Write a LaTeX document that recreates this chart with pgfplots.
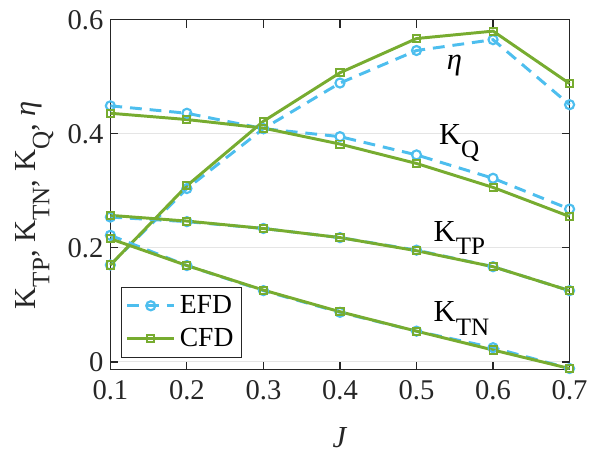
\documentclass[border=0pt]{standalone}
\usepackage{fontspec}
\setmainfont{Liberation Serif}
\usepackage{pgfplots}
\pgfplotsset{compat=1.18}
\definecolor{efd}{rgb}{0.3010,0.7450,0.9330}
\definecolor{cfd}{rgb}{0.4660,0.6740,0.1880}
\definecolor{axc}{rgb}{0.15,0.15,0.15}
\newcommand\sub[1]{\raisebox{-0.45em}{\scalebox{0.82}{#1}}}
\begin{document}
\begin{tikzpicture}
\begin{axis}[name=ax,
  scale only axis, width=233pt, height=177.5pt,
  xmin=0.1, xmax=0.7, ymin=-0.0133, ymax=0.6,
  xtick={0.1,0.2,0.3,0.4,0.5,0.6,0.7},
  ytick={0,0.2,0.4,0.6},
  yticklabels={\textrm{0},\textrm{0.2},\textrm{0.4},\textrm{0.6}},
  xticklabels={\textrm{0.1},\textrm{0.2},\textrm{0.3},\textrm{0.4},\textrm{0.5},\textrm{0.6},\textrm{0.7}},
  tick align=inside, tick pos=both,
  major tick length=4pt,
  axis line style={axc, line width=0.6pt},
  tick style={axc, line width=0.6pt},
  ymajorgrids, grid style={gray!20, line width=0.5pt},
  ticklabel style={font=\rmfamily\fontsize{14.5}{16}\selectfont, text=axc},
  xticklabel style={yshift=-2pt},
  xlabel={\textit{J}},
  xlabel style={font=\rmfamily\fontsize{15.5}{17}\selectfont, text=axc, yshift=-7pt},
  ylabel={K\sub{TP}, K\sub{TN}, K\sub{Q}, \textit{η}},
  ylabel style={font=\rmfamily\fontsize{15.5}{17}\selectfont, text=axc, at={(axis description cs:-0.165,0.47)}, anchor=center},
  legend style={at={(axis description cs:0.0236,0.0338)}, anchor=south west,
    draw=axc, line width=0.5pt, font=\rmfamily\fontsize{14}{16}\selectfont, inner sep=2pt,
    row sep=2pt, cells={anchor=west}},
  legend image code/.code={\draw[mark repeat=2,mark phase=2] plot coordinates {(0pt,0pt) (12pt,0pt) (24pt,0pt)};},
  clip=false,
]
% eta
\addplot[efd, dashed, dash pattern=on 6pt off 4pt, line width=1.5pt, mark=o, mark size=2.3pt, mark options={solid, line width=1.1pt}]
  coordinates {(0.1,0.170) (0.2,0.304) (0.3,0.409) (0.4,0.489) (0.5,0.546) (0.6,0.565) (0.7,0.451)};
\addlegendentry{EFD}
\addplot[cfd, line width=1.5pt, mark=square, mark size=1.8pt, mark options={solid, line width=1.0pt}]
  coordinates {(0.1,0.170) (0.2,0.309) (0.3,0.422) (0.4,0.507) (0.5,0.567) (0.6,0.580) (0.7,0.488)};
\addlegendentry{CFD}
% KQ
\addplot[efd, dashed, dash pattern=on 6pt off 4pt, line width=1.5pt, mark=o, mark size=2.3pt, mark options={solid, line width=1.1pt}, forget plot]
  coordinates {(0.1,0.449) (0.2,0.436) (0.3,0.409) (0.4,0.395) (0.5,0.363) (0.6,0.322) (0.7,0.268)};
\addplot[cfd, line width=1.5pt, mark=square, mark size=1.8pt, mark options={solid, line width=1.0pt}, forget plot]
  coordinates {(0.1,0.436) (0.2,0.425) (0.3,0.410) (0.4,0.382) (0.5,0.348) (0.6,0.306) (0.7,0.255)};
% KTP
\addplot[efd, dashed, dash pattern=on 6pt off 4pt, line width=1.5pt, mark=o, mark size=2.3pt, mark options={solid, line width=1.1pt}, forget plot]
  coordinates {(0.1,0.254) (0.2,0.246) (0.3,0.234) (0.4,0.218) (0.5,0.196) (0.6,0.167) (0.7,0.125)};
\addplot[cfd, line width=1.5pt, mark=square, mark size=1.8pt, mark options={solid, line width=1.0pt}, forget plot]
  coordinates {(0.1,0.257) (0.2,0.247) (0.3,0.234) (0.4,0.218) (0.5,0.195) (0.6,0.167) (0.7,0.125)};
% KTN
\addplot[efd, dashed, dash pattern=on 6pt off 4pt, line width=1.5pt, mark=o, mark size=2.3pt, mark options={solid, line width=1.1pt}, forget plot]
  coordinates {(0.1,0.222) (0.2,0.169) (0.3,0.125) (0.4,0.087) (0.5,0.054) (0.6,0.025) (0.7,-0.0115)};
\addplot[cfd, line width=1.5pt, mark=square, mark size=1.8pt, mark options={solid, line width=1.0pt}, forget plot]
  coordinates {(0.1,0.216) (0.2,0.169) (0.3,0.126) (0.4,0.088) (0.5,0.054) (0.6,0.021) (0.7,-0.0115)};
\node[anchor=base west, inner sep=0pt, font=\rmfamily\fontsize{15.5}{17}\selectfont] at (axis cs:0.539,0.513) {\textit{η}};
\node[anchor=base west, inner sep=0pt, font=\rmfamily\fontsize{15.5}{17}\selectfont] at (axis cs:0.529,0.382) {K\sub{Q}};
\node[anchor=base west, inner sep=0pt, font=\rmfamily\fontsize{15.5}{17}\selectfont] at (axis cs:0.522,0.212) {K\sub{TP}};
\node[anchor=base west, inner sep=0pt, font=\rmfamily\fontsize{15.5}{17}\selectfont] at (axis cs:0.522,0.071) {K\sub{TN}};
\end{axis}
\path[use as bounding box] ([xshift=-56pt,yshift=-39pt]ax.south west) rectangle ([xshift=8pt,yshift=10pt]ax.north east);
\end{tikzpicture}
\end{document}
